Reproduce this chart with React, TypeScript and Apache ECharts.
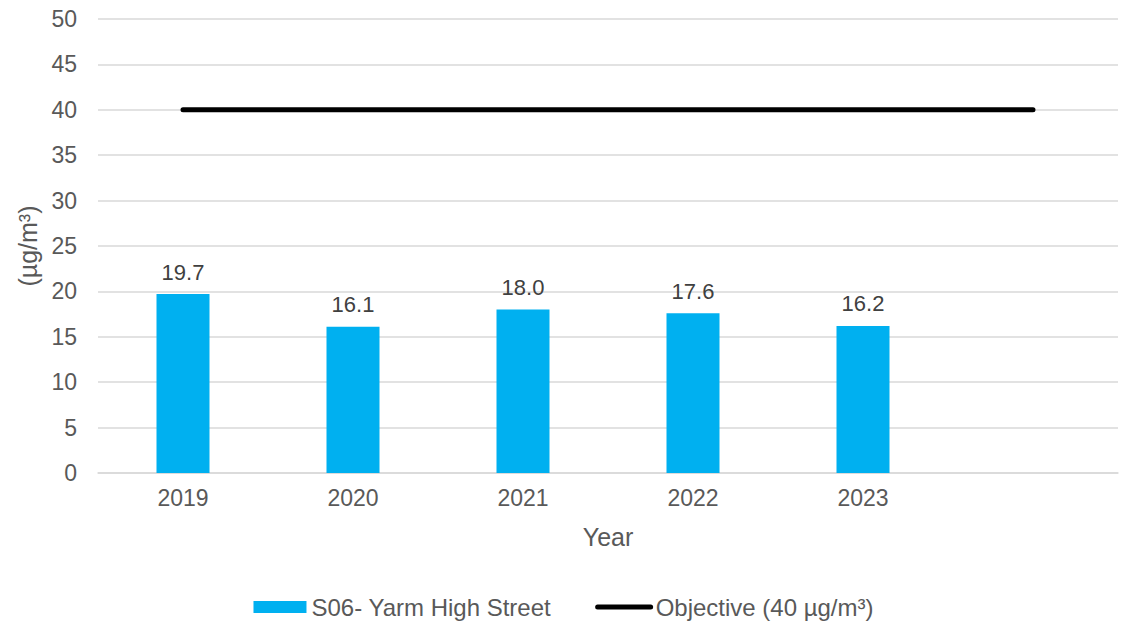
import React, { useEffect, useRef } from "react";
import * as echarts from "echarts";

const categories = ["2019", "2020", "2021", "2022", "2023", ""];
const siteValues: (number | null)[] = [19.7, 16.1, 18.0, 17.6, 16.2, null];
const objectiveValues = [40, 40, 40, 40, 40, 40];
const siteName = "S06- Yarm High Street";
const objectiveName = "Objective (40 µg/m³)";
const yAxisName = "(µg/m³)";
const xAxisName = "Year";

const FONT = "Liberation Sans, Arial, sans-serif";

export default function App() {
  const ref = useRef<HTMLDivElement>(null);
  useEffect(() => {
    document.body.style.margin = "0";
    const chart = echarts.init(ref.current!, null, { renderer: "svg" });
    chart.setOption({
      animation: false,
      textStyle: { fontFamily: FONT },
      grid: { left: 98, right: 9, top: 19, bottom: 148, containLabel: false },
      legend: {
        top: 590,
        left: "center",
        itemWidth: 53,
        itemHeight: 12,
        itemGap: 44,
        textStyle: { fontFamily: FONT, fontSize: 24, color: "#595959" },
        data: [
          { name: siteName, icon: "rect" },
          { name: objectiveName, itemStyle: { opacity: 0 }, lineStyle: { width: 5, color: "#000000" } },
        ],
      },
      xAxis: {
        type: "category",
        data: categories,
        name: xAxisName,
        nameLocation: "middle",
        nameGap: 51,
        nameTextStyle: { fontFamily: FONT, fontSize: 25, color: "#595959" },
        axisLine: { lineStyle: { color: "#d9d9d9", width: 1.5 } },
        axisTick: { show: false },
        axisLabel: { fontFamily: FONT, fontSize: 23, color: "#595959", margin: 13 },
      },
      yAxis: {
        type: "value",
        min: 0,
        max: 50,
        interval: 5,
        name: yAxisName,
        nameLocation: "middle",
        nameRotate: 90,
        nameGap: 56,
        nameTextStyle: { fontFamily: FONT, fontSize: 25, color: "#595959" },
        axisLine: { show: false },
        axisTick: { show: false },
        axisLabel: { fontFamily: FONT, fontSize: 23, color: "#595959", margin: 21 },
        splitLine: { lineStyle: { color: "#d9d9d9", width: 1.5 } },
      },
      series: [
        {
          name: siteName,
          type: "bar",
          data: siteValues,
          barWidth: 53,
          itemStyle: { color: "#00B0F0" },
          label: {
            show: true,
            position: "top",
            distance: 11,
            fontFamily: FONT,
            fontSize: 22,
            color: "#404040",
            formatter: (p: any) => (p.value == null ? "" : Number(p.value).toFixed(1)),
          },
        },
        {
          name: objectiveName,
          type: "line",
          data: objectiveValues,
          symbol: "none",
          lineStyle: { color: "#000000", width: 5, cap: "round" },
          itemStyle: { color: "#000000" },
        },
      ],
    });
    return () => chart.dispose();
  }, []);
  return <div ref={ref} style={{ width: 1127, height: 621 }} />;
}
